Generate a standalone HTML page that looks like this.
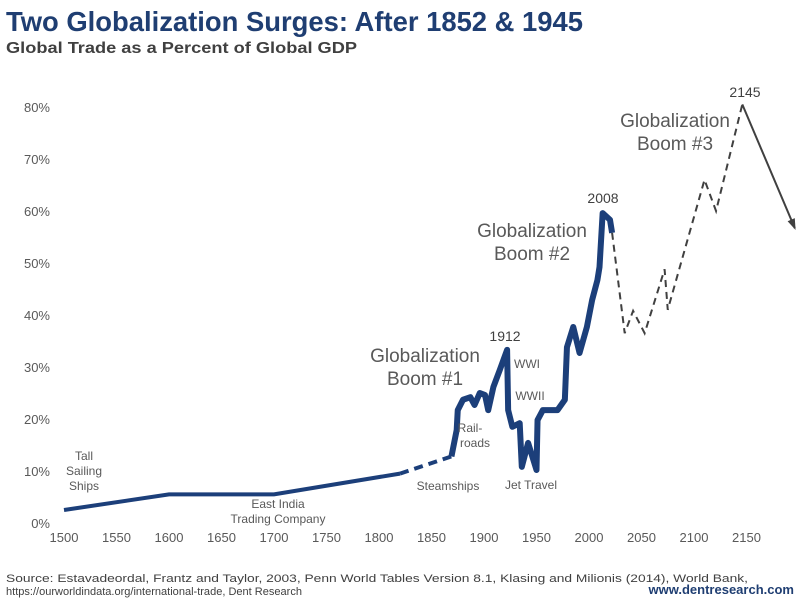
<!DOCTYPE html>
<html><head><meta charset="utf-8"><style>
body{margin:0;background:#fff;font-family:"Liberation Sans",Arial,sans-serif}
svg{display:block}
</style></head><body>
<svg id="c" width="800" height="599" viewBox="0 0 800 599">
<text x="6" y="31" font-size="28" font-weight="bold" fill="#1f3e72" textLength="577" lengthAdjust="spacingAndGlyphs">Two Globalization Surges: After 1852 &amp; 1945</text>
<text x="6" y="53" font-size="16" font-weight="bold" fill="#404040" textLength="351" lengthAdjust="spacingAndGlyphs">Global Trade as a Percent of Global GDP</text>
<g id="yt" fill="#595959" font-size="13"></g>
<g id="xt" fill="#595959" font-size="13"></g>
<g id="marks"></g>
<g fill="#595959" font-size="12" text-anchor="middle">
<text x="84" y="460">Tall</text>
<text x="84" y="475">Sailing</text>
<text x="84" y="490">Ships</text>
<text x="278" y="508">East India</text>
<text x="278" y="523">Trading Company</text>
<text x="448" y="490">Steamships</text>
<text x="470" y="432">Rail-</text>
<text x="475" y="447">roads</text>
<text x="531" y="489">Jet Travel</text>
<text x="527" y="368">WWI</text>
<text x="530" y="400">WWII</text>
</g>
<g fill="#595959" font-size="19" text-anchor="middle">
<text x="425" y="362">Globalization</text>
<text x="425" y="385">Boom #1</text>
<text x="532" y="237">Globalization</text>
<text x="532" y="260">Boom #2</text>
<text x="675" y="127">Globalization</text>
<text x="675" y="150">Boom #3</text>
</g>
<g fill="#404040" font-size="14" text-anchor="middle">
<text x="505" y="341">1912</text>
<text x="603" y="203">2008</text>
<text x="745" y="97">2145</text>
</g>
<text x="6" y="582" font-size="11" fill="#404040" textLength="742" lengthAdjust="spacingAndGlyphs">Source: Estavadeordal, Frantz and Taylor, 2003, Penn World Tables Version 8.1, Klasing and Milionis (2014), World Bank,</text>
<text x="6" y="595" font-size="11" fill="#404040" textLength="296" lengthAdjust="spacingAndGlyphs">https://ourworldindata.org/international-trade, Dent Research</text>
<text x="794" y="594" font-size="13" font-weight="bold" fill="#1f3e72" text-anchor="end">www.dentresearch.com</text>
</svg>
<script>
const NS="http://www.w3.org/2000/svg";
const yTicks=[0,10,20,30,40,50,60,70,80];
const xTicks=[1500,1550,1600,1650,1700,1750,1800,1850,1900,1950,2000,2050,2100,2150];
const earlyYears=[1500,1600,1700,1820];
const earlyVals=[2.5,5.5,5.5,9.5];
const steamYears=[1820,1869];
const steamVals=[9.5,12.8];
const mainYears=[1869,1874,1875,1880,1887,1891,1896,1901,1904,1909,1915,1922,1923,1927,1934,1936,1942,1950,1951,1956,1970,1977,1979,1985,1991,1998,2003,2008,2010,2013,2020,2022];
const mainVals=[12.8,17.9,21.7,23.7,24.2,22.7,25,24.6,21.7,26.2,29.4,33.3,21.7,18.5,19.2,10.8,15.4,10.2,19.8,21.7,21.7,23.7,33.8,37.7,32.7,37.7,42.9,46.7,49.2,59.6,58.3,55.8];
const projYears=[2022,2034,2042,2053,2072,2075,2110,2121,2146];
const projVals=[55.8,36.5,40.8,36.5,48.8,41,66,60,80.5];
const declineYears=[2146,2196];
const declineVals=[80.5,56.7];
const X=y=>64+(y-1500)*1.05;
const Y=v=>523-v*5.2;
function el(t,a,p){const e=document.createElementNS(NS,t);for(const k in a)e.setAttribute(k,a[k]);p.appendChild(e);return e;}
const yt=document.getElementById('yt'),xt=document.getElementById('xt'),m=document.getElementById('marks');
yTicks.forEach(v=>{const t=el('text',{x:50,y:Y(v)+5,'text-anchor':'end'},yt);t.textContent=v+'%';

});
xTicks.forEach(v=>{const t=el('text',{x:X(v),y:542,'text-anchor':'middle'},xt);t.textContent=v;

});
const pts=(ys,vs)=>ys.map((y,i)=>X(y)+','+Y(vs[i])).join(' ');
const a=el('polyline',{points:pts(earlyYears,earlyVals),fill:'none',stroke:'#1c3f7a','stroke-width':4},m);


const b=el('polyline',{points:pts(steamYears,steamVals),fill:'none',stroke:'#1c3f7a','stroke-width':4,'stroke-dasharray':'9 6'},m);


const c=el('polyline',{points:pts(mainYears,mainVals),fill:'none',stroke:'#1c3f7a','stroke-width':6,'stroke-linejoin':'round'},m);


const d=el('polyline',{points:pts(projYears,projVals),fill:'none',stroke:'#404040','stroke-width':2,'stroke-dasharray':'7 5'},m);


const x1=X(declineYears[0]),y1=Y(declineVals[0]),x2=X(declineYears[1]),y2=Y(declineVals[1]);
const e=el('line',{x1:x1,y1:y1,x2:x2,y2:y2,stroke:'#404040','stroke-width':2},m);


const ang=Math.atan2(y2-y1,x2-x1),L=10;
const h=el('polygon',{points:[x2+2*Math.cos(ang),y2+2*Math.sin(ang),x2-L*Math.cos(ang-0.4),y2-L*Math.sin(ang-0.4),x2-L*Math.cos(ang+0.4),y2-L*Math.sin(ang+0.4)].join(' '),fill:'#404040'},m);


</script>
</body></html>
